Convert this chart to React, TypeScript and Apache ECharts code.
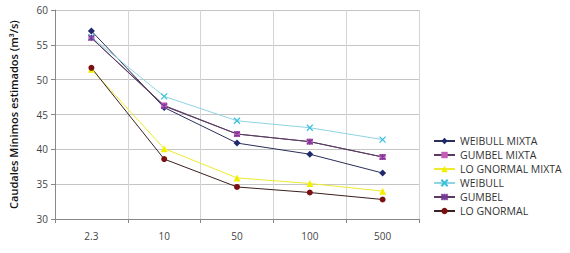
import React, { useEffect, useRef } from "react";
import * as echarts from "echarts";

const categories = ["2.3", "10", "50", "100", "500"];
const weibullMixta = [57.0, 46.0, 40.9, 39.3, 36.6];
const gumbelMixta = [56.0, 46.3, 42.2, 41.1, 38.9];
const lognormalMixta = [51.5, 40.1, 35.9, 35.1, 34.0];
const weibull = [56.1, 47.6, 44.1, 43.1, 41.4];
const gumbel = [56.0, 46.2, 42.2, 41.1, 38.9];
const lognormal = [51.7, 38.6, 34.6, 33.8, 32.8];
const yTicks = { min: 30, max: 60, interval: 5 };

const FONT = "'Open Sans', 'Noto Sans', sans-serif";

export default function App() {
  const ref = useRef<HTMLDivElement>(null);
  useEffect(() => {
    if (!ref.current) return;
    const chart = echarts.init(ref.current, undefined, { renderer: "svg" });
    const mk = (
      name: string,
      data: number[],
      color: string,
      lineColor: string,
      symbol: string,
      size: number,
      stroke?: boolean
    ) => ({
      name,
      type: "line",
      data,
      symbol,
      symbolSize: size,
      lineStyle: { color: lineColor, width: 1 },
      itemStyle: stroke
        ? { color: "none", borderColor: color, borderWidth: 1.2 }
        : { color, borderWidth: 0 },
      emphasis: { disabled: true },
    });
    chart.setOption({
      animation: false,
      textStyle: { fontFamily: FONT },
      grid: { left: 55, top: 10, width: 364, height: 209 },
      legend: {
        orient: "vertical",
        left: 433,
        top: 135,
        padding: 0,
        itemWidth: 21,
        itemHeight: 8,
        itemGap: 2,
        textStyle: { fontSize: 10.5, lineHeight: 12, color: "#333", fontFamily: FONT },
        data: [
          "WEIBULL MIXTA",
          "GUMBEL MIXTA",
          "LO GNORMAL MIXTA",
          "WEIBULL",
          "GUMBEL",
          "LO GNORMAL",
        ],
      },
      xAxis: {
        type: "category",
        data: categories,
        boundaryGap: true,
        axisLine: { lineStyle: { color: "#888" } },
        axisTick: { show: true, length: 4, lineStyle: { color: "#888" } },
        axisLabel: { fontSize: 10, color: "#444", margin: 12 },
        splitLine: { show: true, lineStyle: { color: "#d4d4d4" } },
      },
      yAxis: {
        type: "value",
        min: yTicks.min,
        max: yTicks.max,
        interval: yTicks.interval,
        name: "Caudales Mínimos estimados (m³/s)",
        nameLocation: "middle",
        nameRotate: 90,
        nameGap: 36,
        nameTextStyle: { fontSize: 11, color: "#111", fontWeight: 600 },
        axisLine: { show: true, lineStyle: { color: "#888" } },
        axisTick: { show: true, length: 4, lineStyle: { color: "#888" } },
        axisLabel: { fontSize: 10, color: "#444", margin: 7 },
        splitLine: { show: true, lineStyle: { color: "#c4c4c4" } },
      },
      series: [
        mk("WEIBULL MIXTA", weibullMixta, "#1f2a6e", "#2a2f5a", "diamond", 7),
        mk("GUMBEL MIXTA", gumbelMixta, "#c45cb8", "#5a3a60", "rect", 6),
        mk("LO GNORMAL MIXTA", lognormalMixta, "#f2f000", "#eeea30", "triangle", 7),
        mk("WEIBULL", weibull, "#38c0dc", "#8fd4e2", "path://M0,0L10,10M10,0L0,10", 6, true),
        mk("GUMBEL", gumbel, "#7a3a9a", "#5a3a60", "path://M0,0L10,10M10,0L0,10M5,-1L5,11", 6, true),
        mk("LO GNORMAL", lognormal, "#7a1010", "#3a2020", "circle", 6),
      ],
    });
    return () => chart.dispose();
  }, []);
  return (
    <div
      ref={ref}
      style={{ position: "absolute", left: 0, top: 0, width: 570, height: 253, background: "#fff" }}
    />
  );
}
